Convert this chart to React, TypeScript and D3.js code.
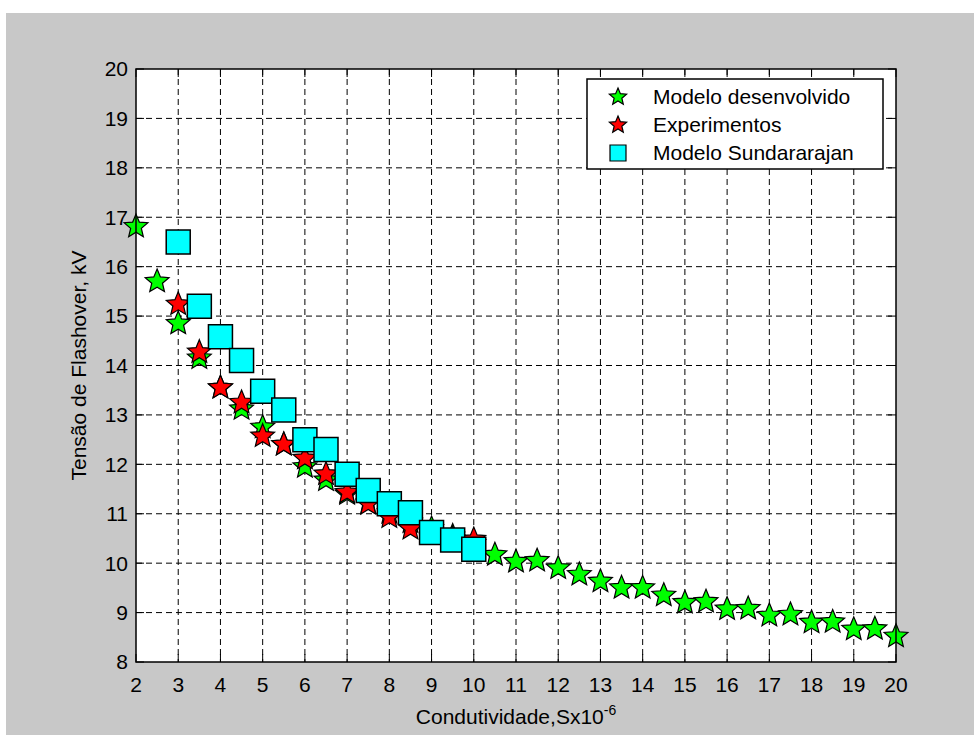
import React from "react";
import * as d3 from "d3";

// Condutividade (Sx10^-6) e tensão de flashover (kV)
const xModelo = [2, 2.5, 3, 3.5, 4, 4.5, 5, 5.5, 6, 6.5, 7, 7.5, 8, 8.5, 9, 9.5, 10, 10.5, 11, 11.5, 12, 12.5, 13, 13.5, 14, 14.5, 15, 15.5, 16, 16.5, 17, 17.5, 18, 18.5, 19, 19.5, 20];
const yModelo = [16.81, 15.7, 14.85, 14.15, 13.55, 13.12, 12.75, 12.4, 11.95, 11.68, 11.4, 11.22, 11.02, 10.83, 10.7, 10.55, 10.4, 10.17, 10.03, 10.05, 9.9, 9.77, 9.63, 9.5, 9.5, 9.35, 9.2, 9.22, 9.07, 9.08, 8.94, 8.96, 8.8, 8.81, 8.66, 8.67, 8.52];

const xExperimentos = [3, 3.5, 4, 4.5, 5, 5.5, 6, 6.5, 7, 7.5, 8, 8.5, 9, 9.5, 10];
const yExperimentos = [15.24, 14.27, 13.55, 13.25, 12.57, 12.4, 12.12, 11.8, 11.43, 11.2, 10.93, 10.7, 10.6, 10.5, 10.48];

const xSundararajan = [3, 3.5, 4, 4.5, 5, 5.5, 6, 6.5, 7, 7.5, 8, 8.5, 9, 9.5, 10];
const ySundararajan = [16.5, 15.2, 14.58, 14.1, 13.48, 13.1, 12.5, 12.3, 11.8, 11.47, 11.2, 11.02, 10.62, 10.47, 10.28];

const xTicks = [2, 3, 4, 5, 6, 7, 8, 9, 10, 11, 12, 13, 14, 15, 16, 17, 18, 19, 20];
const yTicks = [8, 9, 10, 11, 12, 13, 14, 15, 16, 17, 18, 19, 20];

const legendLabels = ["Modelo desenvolvido", "Experimentos", "Modelo Sundararajan"];

const W = 974;
const H = 735;
const plot = { left: 136, right: 896, top: 69, bottom: 662 };
const font = "'Liberation Sans', Arial, sans-serif";

// estrela do matlab (pentagrama um pouco mais cheio que o d3.symbolStar)
const fatStar = {
  draw(ctx: any, size: number) {
    const r = Math.sqrt(size);
    const ri = r * 0.45;
    for (let i = 0; i < 10; i++) {
      const a = (i * Math.PI) / 5 - Math.PI / 2;
      const rr = i % 2 === 0 ? r : ri;
      if (i === 0) ctx.moveTo(rr * Math.cos(a), rr * Math.sin(a));
      else ctx.lineTo(rr * Math.cos(a), rr * Math.sin(a));
    }
    ctx.closePath();
  },
};

const App = () => {
  const x = d3.scaleLinear().domain([2, 20]).range([plot.left, plot.right]);
  const y = d3.scaleLinear().domain([8, 20]).range([plot.bottom, plot.top]);

  const star = d3.symbol(fatStar, 12.5 * 12.5)()!;
  const starSmall = d3.symbol(fatStar, 9 * 9)()!;
  const square = d3.symbol(d3.symbolSquare, 576)()!;
  const squareSmall = d3.symbol(d3.symbolSquare, 256)()!;

  const tick = 8;
  const legendRows = [97, 125, 153];

  return (
    <svg width={W} height={H} style={{ position: "absolute", left: 0, top: 0 }} fontFamily={font}>
      <rect x={0} y={0} width={W} height={H} fill="#ffffff" />
      <rect x={6} y={13} width={W - 6} height={H - 13} fill="#c8c8c8" />
      <rect x={plot.left} y={plot.top} width={plot.right - plot.left} height={plot.bottom - plot.top} fill="#ffffff" />

      {/* grelha tracejada */}
      <g stroke="#000" strokeWidth={1} strokeDasharray="6,4">
        {xTicks.slice(1, -1).map((t) => (
          <line key={"gx" + t} x1={x(t)} x2={x(t)} y1={plot.top} y2={plot.bottom} />
        ))}
        {yTicks.slice(1, -1).map((t) => (
          <line key={"gy" + t} x1={plot.left} x2={plot.right} y1={y(t)} y2={y(t)} />
        ))}
      </g>

      {/* ticks para dentro nos quatro lados */}
      <g stroke="#000" strokeWidth={1}>
        {xTicks.map((t) => (
          <g key={"tx" + t}>
            <line x1={x(t)} x2={x(t)} y1={plot.bottom} y2={plot.bottom - tick} />
            <line x1={x(t)} x2={x(t)} y1={plot.top} y2={plot.top + tick} />
          </g>
        ))}
        {yTicks.map((t) => (
          <g key={"ty" + t}>
            <line x1={plot.left} x2={plot.left + tick} y1={y(t)} y2={y(t)} />
            <line x1={plot.right} x2={plot.right - tick} y1={y(t)} y2={y(t)} />
          </g>
        ))}
      </g>

      {/* séries */}
      <g stroke="#000" strokeWidth={1.2} strokeLinejoin="miter">
        {xModelo.map((v, i) => (
          <path key={"m" + i} d={star} transform={`translate(${x(v)},${y(yModelo[i])})`} fill="#00ff00" />
        ))}
        {xExperimentos.map((v, i) => (
          <path key={"e" + i} d={star} transform={`translate(${x(v)},${y(yExperimentos[i])})`} fill="#ff0000" />
        ))}
        {xSundararajan.map((v, i) => (
          <path key={"s" + i} d={square} transform={`translate(${x(v)},${y(ySundararajan[i])})`} fill="#00ffff" strokeWidth={1.5} />
        ))}
      </g>

      <rect x={plot.left} y={plot.top} width={plot.right - plot.left} height={plot.bottom - plot.top} fill="none" stroke="#000" strokeWidth={1.5} />

      {/* rótulos dos ticks */}
      <g fontSize={21} fill="#000">
        {xTicks.map((t) => (
          <text key={"lx" + t} x={x(t)} y={plot.bottom + 30} textAnchor="middle">{t}</text>
        ))}
        {yTicks.map((t) => (
          <text key={"ly" + t} x={plot.left - 8} y={y(t)} dy="0.35em" textAnchor="end">{t}</text>
        ))}
      </g>

      <text x={(plot.left + plot.right) / 2} y={724} fontSize={21} textAnchor="middle" fill="#000">
        Condutividade,Sx10<tspan dy={-9} fontSize={14}>-6</tspan>
      </text>
      <text transform={`translate(86,${(plot.top + plot.bottom) / 2}) rotate(-90)`} fontSize={21} textAnchor="middle" fill="#000">
        Tensão de Flashover, kV
      </text>

      {/* legenda */}
      <rect x={587} y={79} width={296} height={90} fill="#ffffff" stroke="#000" strokeWidth={1.5} />
      <path d={starSmall} transform={`translate(618,${legendRows[0]})`} fill="#00ff00" stroke="#000" strokeWidth={1.2} />
      <path d={starSmall} transform={`translate(618,${legendRows[1]})`} fill="#ff0000" stroke="#000" strokeWidth={1.2} />
      <path d={squareSmall} transform={`translate(618,${legendRows[2]})`} fill="#00ffff" stroke="#000" strokeWidth={1.2} />
      {legendLabels.map((l, i) => (
        <text key={l} x={653} y={legendRows[i]} dy="0.35em" fontSize={21} fill="#000">{l}</text>
      ))}
    </svg>
  );
};

export default App;
